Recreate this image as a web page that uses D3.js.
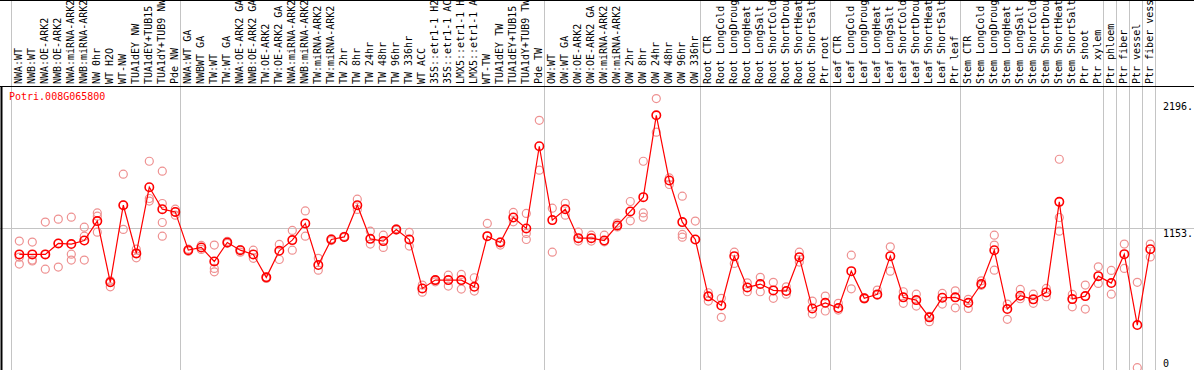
<!DOCTYPE html>
<html>
<head>
<meta charset="utf-8">
<script src="https://cdn.jsdelivr.net/npm/d3@7"></script>
<style>
  html, body { margin: 0; padding: 0; background: #fff; }
  svg { display: block; }
  text { font-family: "DejaVu Sans Mono", monospace; font-size: 10px; }
</style>
</head>
<body>
<div id="chart"></div>
<script>
// sample names, in drawing order
const categories = [
  "NWA:WT", "NWB:WT", "NWA:OE-ARK2", "NWB:OE-ARK2", "NWA:miRNA-ARK2", "NWB:miRNA-ARK2",
  "NW 0hr", "WT H2O", "WT-NW", "TUA1dEY NW", "TUA1dEY+TUB15 NW", "TUA1dY+TUB9 NW", "Pde NW",
  "NWA:WT GA", "NWBWT GA", "TW:WT", "TW:WT GA", "NWA:OE-ARK2 GA", "NWB:OE-ARK2 GA",
  "TW:OE-ARK2", "TW:OE-ARK2 GA", "NWA:miRNA-ARK2", "NWB:miRNA-ARK2", "TW:miRNA-ARK2",
  "TW:miRNA-ARK2", "TW 2hr", "TW 8hr", "TW 24hr", "TW 48hr", "TW 96hr", "TW 336hr", "WT ACC",
  "35S::etr1-1 H2O", "35S::etr1-1 ACC", "LMX5::etr1-1 H2O", "LMX5::etr1-1 ACC", "WT-TW",
  "TUA1dEY TW", "TUA1dEY+TUB15 TW", "TUA1dY+TUB9 TW", "Pde TW",
  "OW:WT", "OW:WT GA", "OW:OE-ARK2", "OW:OE-ARK2 GA", "OW:miRNA-ARK2", "OW:miRNA-ARK2",
  "OW 2hr", "OW 8hr", "OW 24hr", "OW 48hr", "OW 96hr", "OW 336hr",
  "Root CTR", "Root LongCold", "Root LongDrought", "Root LongHeat", "Root LongSalt",
  "Root ShortCold", "Root ShortDrought", "Root ShortHeat", "Root ShortSalt", "Ptr root",
  "Leaf CTR", "Leaf LongCold", "Leaf LongDrought", "Leaf LongHeat", "Leaf LongSalt",
  "Leaf ShortCold", "Leaf ShortDrought", "Leaf ShortHeat", "Leaf ShortSalt", "Ptr leaf",
  "Stem CTR", "Stem LongCold", "Stem LongDrought", "Stem LongHeat", "Stem LongSalt",
  "Stem ShortCold", "Stem ShortDrought", "Stem ShortHeat", "Stem ShortSalt", "Ptr shoot",
  "Ptr xylem", "Ptr phloem", "Ptr fiber", "Ptr vessel", "Ptr fiber vessel"
];

// how many samples sit between two vertical separators
const groupSizes = [13, 28, 12, 10, 10, 11, 1, 1, 1, 1];

// mean expression per sample
const means = [
  939, 939, 939, 1027, 1022, 1051, 1207, 714, 1335, 947, 1480, 1303, 1281,
  973, 995, 882, 1035, 973, 939, 754, 968, 1054, 1188, 853, 1059, 1080, 1335, 1064, 1046,
  1140, 1059, 665, 732, 732, 732, 678, 1086, 1035, 1236, 1148, 1810,
  1215, 1303, 1070, 1070, 1051, 1172, 1285, 1400, 2059, 1534, 1199, 1059,
  601, 528, 925, 673, 700, 649, 644, 917, 504, 549,
  507, 804, 585, 617, 925, 593, 571, 432, 590, 593,
  549, 700, 973, 499, 606, 577, 633, 1362, 579, 603,
  764, 708, 941, 370, 981
];

// individual replicates per sample
const replicates = [
  [1046, 917, 861], [1038, 893, 886], [1199, 820, 939], [1223, 837, 1027], [1239, 941, 893],
  [1158, 1086, 893], [1273, 1247, 1118], [726, 678, 714], [1585, 1140, 1335], [981, 911, 947],
  [1689, 1389, 1368], [1609, 1349, 1196, 1086], [1303, 1255, 1281],
  [981, 965], [1011, 979], [1014, 826, 799], [1045, 1028], [978, 957], [973, 907],
  [757, 745], [1019, 898], [1132, 973], [1289, 1086], [907, 812], [1065, 1050], [1085, 1075],
  [1384, 1301], [1126, 1022], [1094, 995], [1145, 1135], [1116, 1006], [692, 635],
  [718, 732], [772, 684], [778, 660], [751, 644], [1188, 1086], [1014, 1040],
  [1277, 1201], [1269, 1108, 1059], [2019, 1617],
  [1311, 957], [1351, 1255], [1118, 1046], [1094, 1046], [1094, 1040], [1191, 1160],
  [1365, 1209], [1689, 1273, 1239], [2194, 1923], [1555, 1502], [1408, 1100, 1078], [1207, 1059],
  [630, 563], [585, 432], [957, 866], [710, 638], [754, 638], [714, 585], [678, 619],
  [957, 877], [563, 459], [603, 483],
  [545, 491], [933, 662], [590, 580], [652, 610], [1000, 804], [638, 545], [619, 523],
  [397, 440], [625, 539], [646, 509],
  [577, 504], [726, 690], [1094, 1014, 812], [539, 416], [657, 582], [619, 545], [665, 598],
  [1705, 1236, 1126], [617, 517], [692, 499],
  [839, 705], [810, 619], [1022, 826], [714, 27], [1022, 919]
];

const yTicks = [0, 1153, 2196];
const yTickLabels = ["0", "1153.", "2196."];
const geneName = "Potri.008G065800";

const width = 1194, height = 370;
const headerBottom = 86;

const svg = d3.select("#chart").append("svg")
  .attr("width", width)
  .attr("height", height);

const x = d3.scalePoint()
  .domain(d3.range(categories.length))
  .range([19.3, 19.3 + 13 * (categories.length - 1)]);
const step = x.step();

const y = d3.scaleLinear()
  .domain([0, 2196])
  .range([371, 98.3]);

// vertical separators between sample groups
const bounds = [0, ...d3.cumsum(groupSizes)];
svg.append("g").selectAll("line")
  .data(bounds)
  .join("line")
  .attr("x1", d => Math.round(x(0) + d * step - 8) + 0.5)
  .attr("x2", d => Math.round(x(0) + d * step - 8) + 0.5)
  .attr("y1", 0)
  .attr("y2", height)
  .attr("stroke", "#c4c4c4")
  .attr("stroke-width", 1);

// horizontal reference line
svg.append("line")
  .attr("x1", 0).attr("x2", width)
  .attr("y1", Math.round(y(yTicks[1])) + 0.5)
  .attr("y2", Math.round(y(yTicks[1])) + 0.5)
  .attr("stroke", "#c4c4c4");

// frame lines
svg.append("line").attr("x1", 0).attr("x2", width).attr("y1", 0.5).attr("y2", 0.5).attr("stroke", "#000");
svg.append("line").attr("x1", 0).attr("x2", width).attr("y1", headerBottom + 0.5).attr("y2", headerBottom + 0.5).attr("stroke", "#000");
svg.append("line").attr("x1", 1.5).attr("x2", 1.5).attr("y1", headerBottom).attr("y2", height).attr("stroke", "#000").attr("stroke-width", 2);

// sample labels, rotated
svg.append("g").selectAll("text")
  .data(categories)
  .join("text")
  .attr("transform", (d, i) => `translate(${x(i) + 3},${headerBottom - 2}) rotate(-90)`)
  .attr("fill", "#000")
  .text(d => d);

// y labels
svg.append("g").selectAll("text")
  .data(yTicks)
  .join("text")
  .attr("x", 1163)
  .attr("y", (d, i) => Math.min(y(d) + (i === 2 ? 12 : 9), 367))
  .attr("fill", "#000")
  .text((d, i) => yTickLabels[i]);

// gene name
svg.append("text")
  .attr("x", 9)
  .attr("y", 100)
  .attr("fill", "#ff0000")
  .text(geneName);

// replicate points
const repPoints = replicates.flatMap((reps, i) => reps.map(v => ({ i, v })));
svg.append("g").selectAll("circle")
  .data(repPoints)
  .join("circle")
  .attr("cx", d => x(d.i))
  .attr("cy", d => y(d.v))
  .attr("r", 4)
  .attr("fill", "none")
  .attr("stroke", "#ee9191")
  .attr("stroke-width", 1.2);

// mean line
svg.append("path")
  .datum(means)
  .attr("d", d3.line().x((d, i) => x(i)).y(d => y(d)))
  .attr("fill", "none")
  .attr("stroke", "#ff0000")
  .attr("stroke-width", 1.2);

// mean markers
svg.append("g").selectAll("circle")
  .data(means)
  .join("circle")
  .attr("cx", (d, i) => x(i))
  .attr("cy", d => y(d))
  .attr("r", 4.2)
  .attr("fill", "none")
  .attr("stroke", "#ff0000")
  .attr("stroke-width", 1.6);
</script>
</body>
</html>
